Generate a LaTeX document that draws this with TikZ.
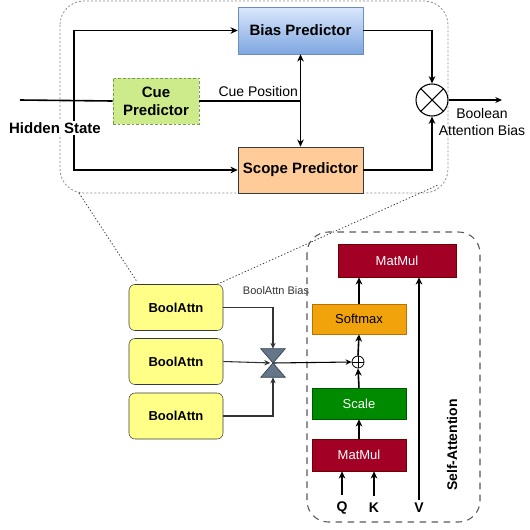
\documentclass[tikz,border=0pt]{standalone}
\usepackage{fontspec}
\setmainfont{Liberation Sans}
\usetikzlibrary{arrows.meta,calc}
\definecolor{biastop}{HTML}{DAE8FC}
\definecolor{biasbot}{HTML}{7EA6E0}
\definecolor{biasline}{HTML}{6C8EBF}
\definecolor{scopefill}{HTML}{FFCC99}
\definecolor{darkline}{HTML}{36393D}
\definecolor{cuefill}{HTML}{CDEB8B}
\definecolor{cueline}{HTML}{7A9A5A}
\definecolor{boolfill}{HTML}{FFFF88}
\definecolor{gatefill}{HTML}{647687}
\definecolor{gateline}{HTML}{314354}
\definecolor{matfill}{HTML}{A20025}
\definecolor{matline}{HTML}{6F0000}
\definecolor{softfill}{HTML}{F0A30A}
\definecolor{softline}{HTML}{BD7000}
\definecolor{scalefill}{HTML}{008A00}
\definecolor{scaleline}{HTML}{005700}
\tikzset{
	arr/.style={line width=1.2pt, -{Stealth[length=5.5pt,width=5pt]}},
	arrboth/.style={line width=1.2pt, {Stealth[length=5.5pt,width=5pt]}-{Stealth[length=5.5pt,width=5pt]}},
	plainline/.style={line width=1.2pt},
	thinarr/.style={line width=0.8pt, color=black!80, -{Stealth[length=4.5pt,width=4pt]}},
	predbox/.style={draw, inner sep=0pt, minimum width=93.75pt, font=\fontsize{11.25}{13.5}\selectfont\bfseries},
	boolbox/.style={draw=darkline, fill=boolfill, rounded corners=4.5pt, inner sep=0pt, minimum width=70.5pt, minimum height=34.5pt, font=\fontsize{9.75}{11.7}\selectfont\bfseries},
	attnbox/.style={inner sep=0pt, minimum width=70.5pt, minimum height=23.25pt, font=\fontsize{9.75}{11.7}\selectfont},
	qkv/.style={inner sep=2pt, font=\fontsize{10.5}{12.6}\selectfont\bfseries},
	zoomline/.style={line width=0.6pt, color=black!75, dash pattern=on 1pt off 1.5pt},
}

\begin{document}
\begin{tikzpicture}[x=0.75pt,y=-0.75pt]
			%%%%% START %%%%%
			\useasboundingbox (0,0) rectangle (530,529);
			
			% predictor block
			\draw[line width=0.6pt, color=black!45, dash pattern=on 1.5pt off 1.5pt, rounded corners=18pt] (60,1) rectangle (448,193);
			
			\node[predbox, draw=biasline, top color=biastop, bottom color=biasbot, minimum height=35.25pt] (bias) at (300.5,30.5) {Bias Predictor};
			\node[predbox, draw=darkline, fill=scopefill, minimum height=34.5pt] (scope) at (300.5,170) {Scope Predictor};
			\node[draw=cueline, fill=cuefill, dash pattern=on 2pt off 1.5pt, inner sep=0pt, minimum width=64.5pt, minimum height=34.5pt, align=center, font=\fontsize{11.25}{13.5}\selectfont\bfseries] (cue) at (156,101) {Cue\\Predictor};
			\node[draw, circle, line width=0.8pt, inner sep=0pt, minimum size=24pt] (mul) at (432,100) {};
			\draw[line width=0.8pt] (mul.45) -- (mul.225) (mul.135) -- (mul.315);
			
			\coordinate (hs) at (20,100);
			\coordinate (split) at (74,100);
			\coordinate (cp) at (bias.south |- cue.east);
			\coordinate (out) at (502,100);
			
			\draw[plainline] (hs) -- (cue.west);
			\draw[arr] (split) |- (bias.west);
			\draw[arr] (split) |- (scope.west);
			\draw[plainline] (cue.east) -- (cp);
			\draw[arrboth] (bias.south) -- (scope.north);
			\draw[arr] (bias.east) -| (mul.north);
			\draw[arr] (scope.east) -| (mul.south);
			\draw[line width=0.8pt, -{Stealth[length=5pt,width=4.5pt]}] (mul.east) -- (out);
			
			\node[fill=white, inner sep=1pt, font=\fontsize{11.25}{13.5}\selectfont\bfseries] (hstext) at (55,128) {Hidden State};
			\node[anchor=south east, inner sep=1pt, font=\fontsize{10.5}{12.6}\selectfont] (cptext) at ($(cp)+(-1,-3)$) {Cue Position};
			\node[align=center, inner sep=0pt, font=\fontsize{10.5}{12.75}\selectfont] (outtext) at (482,121.5) {Boolean\\Attention Bias};
			
			% zoom lines
			\coordinate (zl) at (79,193);
			\coordinate (zr) at (438,185);
			
			% bool attention
			\node[boolbox] (ba1) at (176,307.5) {BoolAttn};
			\node[boolbox] (ba2) at (176,361.5) {BoolAttn};
			\node[boolbox] (ba3) at (176,416) {BoolAttn};
			
			\draw[zoomline] (zl) -- ($(ba1.north west)+(8,-3)$);
			\draw[zoomline] ($(ba1.north east)+(-6,0)$) -- (zr);
			
			\node[inner sep=0pt, minimum width=18pt, minimum height=21pt] (gate) at (273,363) {};
			\node[inner sep=0pt, font=\fontsize{8.25}{9.9}\selectfont, color=black!80] (batext) at (276,291) {BoolAttn Bias};
			
			% self-attention
			\draw[line width=0.8pt, color=black!65, dash pattern=on 5pt off 4pt, rounded corners=16pt] (307,232) rectangle (480,522);
			
			\node[attnbox, draw=matline, fill=matfill, text=white, minimum width=88.5pt, minimum height=24.75pt] (mm2) at (397,260.5) {MatMul};
			\node[attnbox, draw=softline, fill=softfill, minimum height=22.5pt] (soft) at (359,319) {Softmax};
			\node[draw, circle, line width=0.6pt, inner sep=0pt, minimum size=9pt] (plus) at (358,362) {};
			\draw[line width=0.6pt] (plus.north) -- (plus.south) (plus.west) -- (plus.east);
			\node[attnbox, draw=scaleline, fill=scalefill, text=white] (scale) at (359,403.5) {Scale};
			\node[attnbox, draw=matline, fill=matfill, text=white, minimum height=24pt] (mm1) at (359,455) {MatMul};
			
			\node[qkv] (qlab) at (342,508) {Q};
			\node[qkv] (klab) at (374,508) {K};
			\node[qkv] (vlab) at (419,508) {V};
			\node[rotate=90, inner sep=0pt, font=\fontsize{10.5}{12.6}\selectfont\bfseries] (satext) at (452,445) {Self-Attention};
			
			\draw[line width=0.8pt, -{Stealth[length=4.5pt,width=4pt]}] (gate.center) -- (plus.west);
			\draw[fill=gatefill, draw=gateline, line width=0.5pt] (gate.north west) -- (gate.north east) -- (gate.south west) -- (gate.south east) -- cycle;
			\draw[thinarr] (ba1.east) -| (gate.north);
			\draw[thinarr, shorten >=2pt] (ba2.east) -- (gate.center);
			\draw[thinarr] (ba3.east) -| (gate.south);
			
			\draw[arr] (mm1.north) -- (scale.south);
			\draw[arr] (scale.north) -- (plus.south);
			\draw[arr] (plus.north) -- (soft.south);
			\draw[arr] (soft.north) -- (soft.north |- mm2.south);
			\draw[arr, shorten <=3pt] (qlab.north) -- (qlab.north |- mm1.south);
			\draw[arr, shorten <=3pt] (klab.north) -- (klab.north |- mm1.south);
			\draw[arr] (vlab.north) -- (vlab.north |- mm2.south);
			
			%%%%% END %%%%%
\end{tikzpicture}
\end{document}
